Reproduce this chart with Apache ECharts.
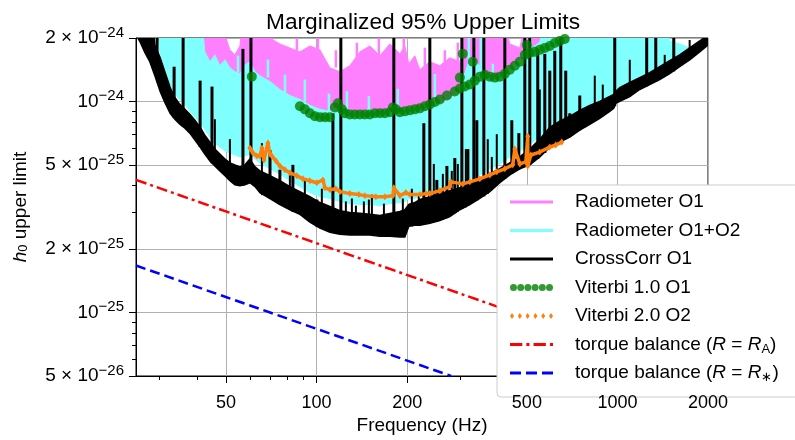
<!DOCTYPE html>
<html><head><meta charset="utf-8">
<script src="https://cdn.jsdelivr.net/npm/echarts@6/dist/echarts.min.js"></script>
<style>html,body{margin:0;padding:0;background:#fff}#c{width:795px;height:440px}</style>
</head><body><div id="c"></div>
<script>
const FONT = '"Liberation Sans", Arial, sans-serif';
const UNIT = 1e-25; // every h0 value below (and the y axis) is in units of 1e-25

// axis ticks
const xTickValues = [50, 100, 200, 500, 1000, 2000];
const xMinorTicks = [30, 40, 60, 70, 80, 90, 300, 400, 600, 700, 800, 900];
const yTickValues = [0.5, 1, 2, 5, 10, 20];
const yMinorTicks = [0.6, 0.7, 0.8, 0.9, 3, 4, 6, 7, 8, 9];

// shared frequency grid (Hz) for the noisy bands
const freqGrid = [25.1, 25.9, 26.9, 27.9, 29.0, 30.2, 31.3, 32.6, 33.8, 35.1,
  36.5, 37.9, 39.4, 41.0, 42.5, 44.2, 45.9, 47.7, 49.6, 51.5,
  53.5, 55.6, 57.8, 60.0, 62.4, 64.8, 70.0, 75.5, 81.5, 88.0,
  95.0, 102.6, 110.7, 119.5, 129.0, 139.3, 150.3, 162.3, 175.2, 189.2,
  196.5, 202.6, 212.1, 220.4, 237.9, 256.8, 277.3, 299.3, 323.1, 348.8,
  376.5, 406.4, 438.7, 473.6, 511.3, 551.9, 595.8, 643.1, 694.3, 749.5,
  809, 873.3, 942.7, 972, 987, 1018, 1099, 1186, 1280, 1382,
  1492, 1610, 1738, 1877, 2000];

// CrossCorr O1: lower / upper edge of the black noisy curve
const crossLo = [20.7, 19.15, 17.0, 15.43, 13.26, 11.15, 9.9, 8.79, 8.24, 7.80,
  7.47, 7.08, 6.56, 6.08, 5.64, 5.23, 4.95, 4.69, 4.45, 4.21,
  4.03, 3.99, 4.03, 4.12, 3.95, 3.70, 3.47, 3.25, 3.07, 2.92,
  2.68, 2.51, 2.40, 2.35, 2.33, 2.33, 2.33, 2.30, 2.30, 2.28,
  2.28, 2.56, 2.59, 2.59, 2.65, 2.73, 2.85, 3.07, 3.25, 3.47,
  3.74, 4.12, 4.49, 4.80, 5.01, 5.46, 6.08, 6.42, 6.78, 7.31,
  7.80, 8.33, 8.98, 9.28, 9.80, 10.01, 10.56, 11.40, 12.03, 12.70,
  13.55, 14.62, 15.77, 17.19, 18.54];
const crossHi = [30, 30, 30, 30, 18.54, 16.11, 13.85, 11.65, 10.45, 9.69,
  9.18, 8.69, 8.15, 7.55, 6.93, 6.42, 5.95, 5.64, 5.34, 5.12,
  5.01, 4.90, 5.01, 5.34, 4.90, 4.69, 4.45, 4.21, 3.95, 3.74,
  3.54, 3.32, 3.18, 3.04, 2.98, 2.95, 2.92, 2.88, 2.95, 3.01,
  3.07, 3.25, 3.32, 3.43, 3.54, 3.66, 3.78, 3.90, 4.07, 4.30,
  4.54, 4.80, 5.12, 5.46, 5.95, 6.63, 7.55, 8.06, 8.51, 9.08,
  9.59, 10.01, 10.56, 10.80, 11.15, 11.65, 12.30, 12.98, 13.70, 14.62,
  15.60, 16.64, 17.95, 19.36, 20.7];

// Radiometer O1+O2 (cyan) lower / upper edge
const radO12Lo = [30, 30, 30, 30, 30, 16.46, 14.15, 12.03, 10.80, 10.23,
  9.69, 8.98, 8.42, 7.89, 7.39, 6.78, 6.35, 6.08, 5.83, 5.70,
  5.58, 5.46, 5.52, 5.64, 5.34, 5.12, 4.80, 4.54, 4.21, 3.95,
  3.70, 3.54, 3.47, 3.36, 3.28, 3.25, 3.25, 3.21, 3.28, 3.32,
  3.36, 3.47, 3.47, 3.54, 3.66, 3.78, 3.95, 4.07, 4.30, 4.49,
  4.80, 5.06, 5.46, 5.83, 6.28, 6.78, 7.55, 8.06, 8.51, 9.08,
  9.59, 10.01, 10.56, 10.80, 11.15, 11.65, 12.30, 12.98, 13.70, 14.62,
  15.60, 16.64, 17.95, 19.36, 20.7];
const radO12Hi = [30, 30, 30, 30, 30, 30, 30, 30, 30, 30,
  30, 30, 30, 30, 17.19, 15.43, 16.64, 14.78, 15.77, 14.46,
  13.85, 13.55, 14.94, 15.43, 13.85, 13.26, 12.43, 11.40, 10.68, 10.23,
  9.59, 9.18, 8.98, 9.38, 8.98, 8.79, 9.18, 8.79, 9.18, 8.98,
  9.38, 9.18, 9.38, 9.18, 9.38, 9.80, 10.23, 11.40, 16.11, 14.78,
  12.70, 13.26, 14.15, 15.77, 17.57, 19.15, 30, 30, 30, 30,
  30, 30, 30, 30, 30, 30, 30, 30, 30, 30,
  19.36, 18.74, 17.95, 19.36, 20.7];

// Radiometer O1 (magenta) lower / upper edge
const radO1Lo = [30, 30, 30, 30, 30, 30, 30, 30, 30, 30,
  30, 30, 30, 30, 17.19, 15.43, 16.64, 14.78, 15.77, 14.46,
  13.85, 13.55, 14.94, 15.43, 13.85, 13.26, 12.43, 11.40, 10.68, 10.23,
  9.59, 9.18, 8.98, 9.38, 8.98, 8.79, 9.18, 8.79, 9.18, 8.98,
  9.38, 9.18, 9.38, 9.18, 9.38, 9.80, 10.23, 11.40, 16.11, 14.78,
  12.70, 13.26, 14.15, 15.77, 17.57, 19.15, 30, 30, 30, 30,
  30, 30, 30, 30, 30, 30, 30, 30, 30, 30,
  30, 30, 30, 30, 30];
const radO1Hi = [30, 30, 30, 30, 30, 30, 30, 30, 30, 30,
  30, 30, 30, 30, 30, 30, 30, 30, 20.7, 17.57,
  16.64, 18.34, 30, 30, 30, 30, 20.0, 18.74, 17.95, 17.19,
  18.34, 17.57, 14.46, 13.85, 14.78, 17.19, 18.34, 16.46, 18.74, 16.82,
  18.34, 15.10, 16.46, 14.15, 15.43, 14.78, 16.11, 15.43, 30, 30,
  30, 30, 18.74, 17.95, 30, 30, 30, 30, 30, 30,
  30, 30, 30, 30, 30, 30, 30, 30, 30, 30,
  30, 30, 30, 30, 30];

// narrow excursions of the radiometer curves (frequency, from, to)
const cyanSpikeFreq = [54.8, 68.9, 78.5, 91.4, 109.9, 126.1, 149.2, 186.2, 247.2, 320.6, 351.4, 385.3, 515.3, 577.9];
const cyanSpikeFrom = [13.7, 13.0, 11.0, 10.0, 9.0, 9.2, 9.0, 9.1, 9.6, 15.0, 14.5, 12.8, 17.5, 19.0];
const cyanSpikeTo = [16.5, 15.8, 13.4, 12.7, 10.9, 11.2, 10.6, 11.5, 13.5, 30, 30, 15.1, 30, 30];
const magSpikeFreq = [86.0, 101.0, 115.9, 136.1, 161.0, 194.9, 229.0, 266.8, 294.7];
const magSpikeFrom = [17.5, 17.0, 14.5, 15.0, 16.5, 17.0, 14.5, 15.0, 15.5];
const magSpikeTo = [30, 30, 17.5, 19.0, 30, 30, 18.0, 17.5, 19.0];

// CrossCorr O1 line spikes: frequency, foot, tip
const spikeFreq = [29.5, 33.6, 36.0, 41.0, 44.9, 56.9, 60.5, 70.0, 75.5, 83.4,
  100.2, 113.3, 120.4, 180.6, 227.2, 237.9, 251, 271.1, 288.0, 304,
  318.3, 333.2, 340.9, 359.7, 422.4, 445.5, 470.1, 492.2, 511.3, 543.4,
  573.5, 595.8, 619.0, 648.1, 673.2, 694.3, 749.5, 778.6, 979.6, 1251,
  1341, 1539];
const spikeBase = [12.8, 8.35, 7.6, 6.08, 5.1, 4.0, 4.1, 3.47, 3.25, 3.0,
  2.55, 2.38, 2.35, 2.3, 2.6, 2.65, 2.7, 2.8, 2.95, 3.1,
  3.2, 3.35, 3.4, 3.55, 4.3, 4.55, 4.75, 4.9, 5.0, 5.35,
  5.7, 6.08, 6.25, 6.45, 6.65, 6.78, 7.31, 7.55, 9.5, 11.8,
  12.4, 13.9];
const spikeTop = [30, 14.62, 30, 12.56, 11.77, 17.76, 30, 5.89, 4.75, 5.01,
  3.43, 8.79, 30, 30, 7.89, 30, 4.25, 4.95, 5.40, 30,
  5.95, 30, 8.15, 30, 30, 8.15, 7.08, 30, 30, 17.76,
  16.82, 14.0, 17.38, 30, 14.0, 8.79, 10.68, 9.13, 30, 30,
  30, 30];
const minorSpikeFreq = [45.9, 51.5, 65.8, 81.5, 91.4, 104.1, 125.1, 131.0, 135.1, 143.6,
  149.2, 152.7, 167.4, 193.5, 207.3, 218.7, 245.3, 262.8, 281.4, 294.7,
  313.4, 370.6, 382.3, 397.1, 551.9, 840.7, 893.8, 1099, 1436, 1738];
const minorSpikeBase = [4.95, 4.21, 3.6, 3.07, 2.8, 2.5, 2.34, 2.33, 2.33, 2.33,
  2.33, 2.33, 2.3, 2.28, 2.56, 2.59, 2.68, 2.75, 2.9, 3.0,
  3.15, 3.65, 3.8, 4.0, 5.46, 8.1, 8.5, 10.56, 13.1, 15.77];
const minorSpikeTop = [8.24, 6.63, 6.35, 4.54, 4.30, 3.86, 3.36, 3.47, 3.21, 3.36,
  3.43, 3.62, 3.28, 3.47, 3.86, 3.66, 5.06, 4.54, 4.69, 5.06,
  5.95, 6.63, 5.46, 7.0, 11.4, 13.26, 12.03, 15.77, 16.64, 19.57];

// Viterbi 1.0 O1 (green dots)
const viterbi1Freq = [60.9, 88.0, 91.4, 95.0, 98.7, 102.6, 106.6, 110.7, 115.0, 117.7,
  121.4, 124.2, 129.0, 134.0, 139.3, 144.7, 150.3, 156.2, 162.3, 168.6,
  175.2, 179.3, 183.5, 189.2, 196.5, 204.2, 212.1, 220.4, 229.0, 237.9,
  247.2, 256.8, 271.1, 288.0, 299.3, 310.9, 323.1, 335.6, 348.8, 362.4,
  376.5, 391.1, 406.4, 422.4, 438.7, 455.9, 473.6, 492.2, 511.3, 531.3,
  551.9, 573.5, 595.8, 619.0, 643.1, 668.2, 299.3, 306.2, 330.5, 499.8];
const viterbi1H = [13.12, 9.49, 9.18, 8.79, 8.51, 8.42, 8.42, 8.42, 9.38, 9.80,
  9.18, 8.79, 8.69, 8.69, 8.69, 8.69, 8.69, 8.79, 8.79, 8.79,
  8.89, 9.38, 9.18, 8.89, 8.98, 9.08, 9.18, 9.28, 9.49, 9.69,
  9.95, 10.23, 10.68, 11.15, 11.52, 11.77, 12.03, 12.56, 13.12, 13.40,
  13.12, 12.98, 13.12, 13.55, 14.15, 14.78, 15.43, 16.64, 17.0, 17.19,
  17.57, 17.95, 18.34, 18.94, 19.36, 19.78, 12.98, 16.82, 15.43, 18.54];

// Viterbi 2.0 O2 (orange diamonds)
const viterbi2Freq = [60.0, 61.4, 63.3, 64.8, 65.8, 66.8, 68.9, 70.0, 71.0, 73.3,
  75.5, 78.5, 81.5, 86.0, 90.0, 95.0, 100.2, 105.0, 106.6, 110.7,
  115.9, 119.5, 129.0, 138.2, 144.7, 157.4, 168.6, 179.3, 180.6, 189.2,
  198.0, 204.2, 220.4, 230.8, 237.9, 256.8, 277.3, 279.4, 306.2, 323.1,
  348.8, 376.5, 397.1, 422.4, 448.8, 455.9, 473.6, 496.0, 503.5, 503.5,
  515.3, 551.9, 595.8, 623.7, 653.1];
const viterbi2H = [6.02, 5.70, 5.52, 5.52, 6.02, 5.28, 6.35, 5.64, 5.52, 5.23,
  4.95, 4.75, 4.59, 4.45, 4.30, 4.21, 4.12, 4.25, 3.90, 3.82,
  3.86, 3.74, 3.66, 3.62, 3.58, 3.54, 3.54, 3.58, 3.90, 3.58,
  3.70, 3.62, 3.62, 3.66, 3.66, 3.78, 3.95, 4.16, 4.07, 4.16,
  4.30, 4.49, 4.64, 4.80, 5.01, 5.95, 5.06, 5.17, 6.85, 4.95,
  5.58, 5.76, 6.08, 6.22, 6.42];

// torque balance lines (end points)
const torqueAFreq = [25.1, 1813];
const torqueAH = [4.25, 0.5];
const torqueStarFreq = [25.1, 280];
const torqueStarH = [1.67, 0.5];

// colours
const C_MAG = '#ff80ff', C_CYAN = '#80ffff', C_GREEN = '#008000', C_ORANGE = '#ff7f0e';
const Z_SERIES = 5;

function pairs(fs, hs) { return fs.map((f, i) => [f, hs[i]]); }

// a noisy band: polygon between lower and upper edge, through the axes' scales
function band(name, lo, hi, color, lw) {
  return {
    name: name, type: 'custom', silent: true, clip: true, color: color, z: Z_SERIES,
    data: freqGrid.map((f, i) => [f, lo[i], hi[i]]),
    encode: { x: 0, y: [1, 2] },
    renderItem: function (params, api) {
      if (params.dataIndexInside !== 0) return null;
      const n = params.dataInsideLength;
      const up = [], dn = [];
      for (let j = 0; j < n; j++) {
        up.push(api.coord([api.value(0, j), api.value(2, j)]));
        dn.push(api.coord([api.value(0, j), api.value(1, j)]));
      }
      return { type: 'polygon', shape: { points: up.concat(dn.reverse()) },
        style: { fill: color, stroke: color, lineWidth: lw } };
    }
  };
}

// vertical excursions (spikes) drawn as segments between two values at one frequency
function spikeSeries(fs, bs, ts, w, color) {
  return {
    type: 'custom', silent: true, clip: true, z: Z_SERIES,
    data: fs.map((f, i) => [f, bs[i], ts[i]]),
    encode: { x: 0, y: [1, 2] },
    renderItem: function (params, api) {
      const p1 = api.coord([api.value(0), api.value(1)]);
      const p2 = api.coord([api.value(0), api.value(2)]);
      return { type: 'line', shape: { x1: p1[0], y1: p1[1], x2: p2[0], y2: p2[1] },
        style: { stroke: color, lineWidth: w } };
    }
  };
}

// legend icons
const ICON_LINE = 'path://M0,0H43V3H0Z';
const ICON_DASHDOT = 'path://M0,0H12V3H0Z M16,0H19V3H16Z M23,0H35V3H23Z M39,0H42V3H39Z';
const ICON_DASH = 'path://M0,0H11V3H0Z M16,0H27V3H16Z M32,0H43V3H32Z';
let dots = 'path://';
for (let i = 0; i < 6; i++) {
  const cx = 3.5 + 7.2 * i;
  dots += 'M' + (cx - 3.5) + ',3.5 A3.5,3.5 0 1 0 ' + (cx + 3.5) + ',3.5 A3.5,3.5 0 1 0 ' + (cx - 3.5) + ',3.5 Z ';
}
let diamonds = 'path://';
for (let i = 0; i < 6; i++) {
  const cx = 2 + 7.8 * i;
  diamonds += 'M' + cx + ',0 L' + (cx + 2) + ',3 L' + cx + ',6 L' + (cx - 2) + ',3 Z ';
}

const legendRich = {
  'torque balance (R = R_A)': 'torque balance ({i|R} = {i|R}{sub|A})',
  'torque balance (R = R_*)': 'torque balance ({i|R} = {i|R}{sub|∗})'
};

function fmtY(v) {
  const real = v * UNIT;
  const e = Math.floor(Math.log10(real) + 1e-6);
  const m = Math.round(real / Math.pow(10, e));
  return '{m|' + (m === 1 ? '' : m + ' × ') + '10}{s|−' + (-e) + '}';
}

const series = [
  band('Radiometer O1', radO1Lo, radO1Hi, C_MAG, 1),
  spikeSeries(magSpikeFreq, magSpikeFrom, magSpikeTo, 2.5, C_MAG),
  band('Radiometer O1+O2', radO12Lo, radO12Hi, C_CYAN, 1),
  spikeSeries(cyanSpikeFreq, cyanSpikeFrom, cyanSpikeTo, 2.5, C_CYAN),
  band('CrossCorr O1', crossLo, crossHi, '#000', 1.5),
  spikeSeries(minorSpikeFreq, minorSpikeBase, minorSpikeTop, 2, '#000'),
  spikeSeries(spikeFreq, spikeBase, spikeTop, 3, '#000'),
  { name: 'Viterbi 1.0 O1', type: 'scatter', data: pairs(viterbi1Freq, viterbi1H), z: Z_SERIES,
    symbol: 'circle', symbolSize: 10, itemStyle: { color: C_GREEN }, silent: true, clip: true },
  { name: 'Viterbi 2.0 O2', type: 'line', data: pairs(viterbi2Freq, viterbi2H), z: Z_SERIES,
    color: C_ORANGE, lineStyle: { width: 3.5, color: C_ORANGE }, symbol: 'diamond', symbolSize: [5, 7],
    showSymbol: true, showAllSymbol: true, itemStyle: { color: C_ORANGE }, silent: true, clip: true },
  { name: 'torque balance (R = R_A)', type: 'line', data: pairs(torqueAFreq, torqueAH), z: Z_SERIES,
    color: '#ff0000', symbol: 'none', lineStyle: { width: 2.5, color: '#ff0000', type: [11, 4, 3, 4] },
    silent: true, clip: true },
  { name: 'torque balance (R = R_*)', type: 'line', data: pairs(torqueStarFreq, torqueStarH), z: Z_SERIES,
    color: '#0000ff', symbol: 'none', lineStyle: { width: 2.5, color: '#0000ff', type: [10, 5] },
    silent: true, clip: true }
];

const axisText = { color: '#000', fontFamily: FONT, fontSize: 18 };
const xBase = { type: 'log', logBase: 10, min: 25.1, max: 2000, position: 'bottom', gridIndex: 0, z: 0 };
const yBase = { type: 'log', logBase: 10, min: 0.5, max: 20, position: 'left', gridIndex: 0, z: 0 };

const option = {
  animation: false,
  backgroundColor: '#fff',
  title: { text: 'Marginalized 95% Upper Limits', left: 261, top: 6,
    textStyle: { color: '#000', fontFamily: FONT, fontSize: 22.7, fontWeight: 'normal' } },
  grid: { left: 136, top: 38, width: 572, height: 341, show: true, z: 0, borderColor: '#000', borderWidth: 1, backgroundColor: 'transparent' },
  xAxis: [
    Object.assign({}, xBase, {
      name: 'Frequency (Hz)', nameLocation: 'middle', nameGap: 40,
      nameTextStyle: { color: '#000', fontFamily: FONT, fontSize: 19 },
      axisLine: { show: true, lineStyle: { color: '#000', width: 1 } },
      axisTick: { show: true, customValues: xTickValues, length: 7, lineStyle: { color: '#000', width: 1 } },
      axisLabel: { show: false },
      splitLine: { show: true, lineStyle: { color: '#b0b0b0', width: 1 } }
    }),
    Object.assign({}, xBase, {
      axisLine: { show: false }, axisLabel: { show: false }, splitLine: { show: false },
      axisTick: { show: true, customValues: xMinorTicks, length: 4, lineStyle: { color: '#000', width: 1 } }
    }),
    // tick labels only, drawn above the legend box like in the reference
    Object.assign({}, xBase, {
      z: 12,
      axisLine: { show: false }, axisTick: { show: false }, splitLine: { show: false },
      axisLabel: Object.assign({ customValues: xTickValues, margin: 18, formatter: v => String(Math.round(v)) }, axisText)
    })
  ],
  yAxis: [
    Object.assign({}, yBase, {
      name: '{i|h}{sub|0} upper limit', nameLocation: 'middle', nameGap: 106,
      nameTextStyle: { color: '#000', fontFamily: FONT, fontSize: 19,
        rich: { i: { fontStyle: 'italic', fontSize: 19, fontFamily: FONT, color: '#000' },
                sub: { fontSize: 13, fontFamily: FONT, color: '#000', verticalAlign: 'bottom', lineHeight: 13 } } },
      axisLine: { show: true, lineStyle: { color: '#000', width: 1 } },
      axisTick: { show: true, customValues: yTickValues, length: 7, lineStyle: { color: '#000', width: 1 } },
      axisLabel: Object.assign({ customValues: yTickValues, margin: 12, formatter: fmtY,
        rich: { m: { fontSize: 19, fontFamily: FONT, color: '#000', lineHeight: 26 },
                s: { fontSize: 15, fontFamily: FONT, color: '#000', lineHeight: 15, verticalAlign: 'top' } } }, axisText),
      splitLine: { show: true, lineStyle: { color: '#b0b0b0', width: 1 } }
    }),
    Object.assign({}, yBase, {
      axisLine: { show: false }, axisLabel: { show: false }, splitLine: { show: false },
      axisTick: { show: true, customValues: yMinorTicks, length: 4, lineStyle: { color: '#000', width: 1 } }
    })
  ],
  legend: {
    orient: 'vertical', left: 497, top: 185, selectedMode: false, z: 10,
    backgroundColor: '#fff', borderColor: '#cccccc', borderWidth: 1, borderRadius: 4,
    padding: [6, 20, 13, 13], itemWidth: 43, itemHeight: 14, itemGap: 6.5,
    textStyle: { color: '#000', fontFamily: FONT, fontSize: 19, lineHeight: 22, padding: [0, 0, 0, 17],
      rich: { i: { fontStyle: 'italic' }, sub: { fontSize: 13, lineHeight: 13, verticalAlign: 'bottom' } } },
    formatter: name => legendRich[name] || name,
    data: [
      { name: 'Radiometer O1', icon: ICON_LINE, itemStyle: { color: C_MAG, borderWidth: 0 } },
      { name: 'Radiometer O1+O2', icon: ICON_LINE, itemStyle: { color: C_CYAN, borderWidth: 0 } },
      { name: 'CrossCorr O1', icon: ICON_LINE, itemStyle: { color: '#000', borderWidth: 0 } },
      { name: 'Viterbi 1.0 O1', icon: dots, itemStyle: { color: C_GREEN, borderWidth: 0 } },
      { name: 'Viterbi 2.0 O2', icon: diamonds, itemStyle: { color: C_ORANGE, borderWidth: 0 } },
      { name: 'torque balance (R = R_A)', icon: ICON_DASHDOT, itemStyle: { color: '#ff0000', borderWidth: 0 } },
      { name: 'torque balance (R = R_*)', icon: ICON_DASH, itemStyle: { color: '#0000ff', borderWidth: 0 } }
    ]
  },
  series: series
};

const chart = echarts.init(document.getElementById('c'), null, { renderer: 'canvas', width: 795, height: 440 });
chart.setOption(option);
</script>
</body></html>
